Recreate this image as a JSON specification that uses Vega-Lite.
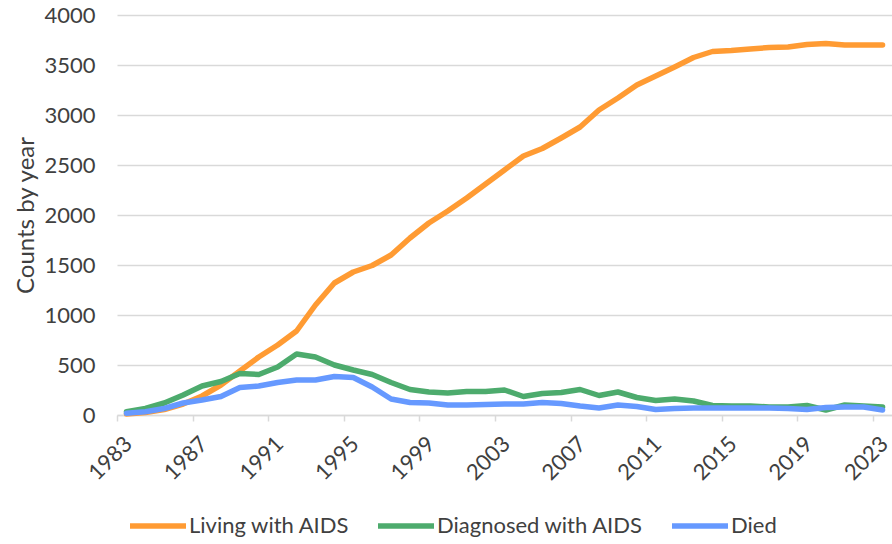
{
  "$schema": "https://vega.github.io/schema/vega-lite/v6.json",
  "width": 775,
  "height": 400,
  "autosize": {"type": "none"},
  "padding": {"left": 117, "top": 15, "right": 0, "bottom": 129},
  "background": "white",
  "config": {"view": {"stroke": null}, "font": "Lato"},
  "data": {"values": [
    {"year": 1983, "Living with AIDS": 10, "Diagnosed with AIDS": 33, "Died": 17},
    {"year": 1984, "Living with AIDS": 25, "Diagnosed with AIDS": 65, "Died": 33},
    {"year": 1985, "Living with AIDS": 55, "Diagnosed with AIDS": 120, "Died": 65},
    {"year": 1986, "Living with AIDS": 110, "Diagnosed with AIDS": 200, "Died": 120},
    {"year": 1987, "Living with AIDS": 190, "Diagnosed with AIDS": 290, "Died": 150},
    {"year": 1988, "Living with AIDS": 300, "Diagnosed with AIDS": 335, "Died": 185},
    {"year": 1989, "Living with AIDS": 440, "Diagnosed with AIDS": 415, "Died": 275},
    {"year": 1990, "Living with AIDS": 580, "Diagnosed with AIDS": 405, "Died": 290},
    {"year": 1991, "Living with AIDS": 700, "Diagnosed with AIDS": 480, "Died": 325},
    {"year": 1992, "Living with AIDS": 840, "Diagnosed with AIDS": 610, "Died": 350},
    {"year": 1993, "Living with AIDS": 1100, "Diagnosed with AIDS": 580, "Died": 350},
    {"year": 1994, "Living with AIDS": 1320, "Diagnosed with AIDS": 500, "Died": 385},
    {"year": 1995, "Living with AIDS": 1430, "Diagnosed with AIDS": 450, "Died": 375},
    {"year": 1996, "Living with AIDS": 1495, "Diagnosed with AIDS": 405, "Died": 280},
    {"year": 1997, "Living with AIDS": 1600, "Diagnosed with AIDS": 325, "Died": 160},
    {"year": 1998, "Living with AIDS": 1770, "Diagnosed with AIDS": 255, "Died": 125},
    {"year": 1999, "Living with AIDS": 1920, "Diagnosed with AIDS": 230, "Died": 120},
    {"year": 2000, "Living with AIDS": 2040, "Diagnosed with AIDS": 220, "Died": 100},
    {"year": 2001, "Living with AIDS": 2170, "Diagnosed with AIDS": 235, "Died": 100},
    {"year": 2002, "Living with AIDS": 2310, "Diagnosed with AIDS": 235, "Died": 105},
    {"year": 2003, "Living with AIDS": 2450, "Diagnosed with AIDS": 250, "Died": 110},
    {"year": 2004, "Living with AIDS": 2590, "Diagnosed with AIDS": 185, "Died": 110},
    {"year": 2005, "Living with AIDS": 2665, "Diagnosed with AIDS": 215, "Died": 125},
    {"year": 2006, "Living with AIDS": 2770, "Diagnosed with AIDS": 225, "Died": 115},
    {"year": 2007, "Living with AIDS": 2880, "Diagnosed with AIDS": 255, "Died": 90},
    {"year": 2008, "Living with AIDS": 3050, "Diagnosed with AIDS": 195, "Died": 70},
    {"year": 2009, "Living with AIDS": 3170, "Diagnosed with AIDS": 230, "Died": 100},
    {"year": 2010, "Living with AIDS": 3300, "Diagnosed with AIDS": 175, "Died": 85},
    {"year": 2011, "Living with AIDS": 3390, "Diagnosed with AIDS": 145, "Died": 55},
    {"year": 2012, "Living with AIDS": 3480, "Diagnosed with AIDS": 160, "Died": 65},
    {"year": 2013, "Living with AIDS": 3575, "Diagnosed with AIDS": 140, "Died": 70},
    {"year": 2014, "Living with AIDS": 3635, "Diagnosed with AIDS": 95, "Died": 70},
    {"year": 2015, "Living with AIDS": 3645, "Diagnosed with AIDS": 90, "Died": 70},
    {"year": 2016, "Living with AIDS": 3660, "Diagnosed with AIDS": 90, "Died": 70},
    {"year": 2017, "Living with AIDS": 3675, "Diagnosed with AIDS": 80, "Died": 70},
    {"year": 2018, "Living with AIDS": 3680, "Diagnosed with AIDS": 80, "Died": 65},
    {"year": 2019, "Living with AIDS": 3705, "Diagnosed with AIDS": 95, "Died": 55},
    {"year": 2020, "Living with AIDS": 3715, "Diagnosed with AIDS": 50, "Died": 75},
    {"year": 2021, "Living with AIDS": 3700, "Diagnosed with AIDS": 100, "Died": 80},
    {"year": 2022, "Living with AIDS": 3700, "Diagnosed with AIDS": 90, "Died": 80},
    {"year": 2023, "Living with AIDS": 3700, "Diagnosed with AIDS": 80, "Died": 50}
  ]},
  "transform": [{"fold": ["Living with AIDS", "Diagnosed with AIDS", "Died"], "as": ["series", "count"]}],
  "mark": {"type": "line", "strokeWidth": 5.5, "strokeCap": "round", "strokeJoin": "round"},
  "encoding": {
    "x": {
      "field": "year", "type": "quantitative",
      "scale": {"domain": [1982.5, 2023.5], "nice": false, "zero": false},
      "axis": {
        "values": [1983, 1987, 1991, 1995, 1999, 2003, 2007, 2011, 2015, 2019, 2023],
        "format": "d", "labelAngle": -45, "tickOffset": -9.45, "labelOffset": 4,
        "grid": false, "domainColor": "#d9d9d9", "domainWidth": 1.5,
        "tickColor": "#d9d9d9", "tickWidth": 1.5, "tickSize": 6,
        "labelFontSize": 22, "labelColor": "#404040", "labelPadding": 12,
        "labelFlush": false, "labelOverlap": false, "title": null
      }
    },
    "y": {
      "field": "count", "type": "quantitative",
      "scale": {"domain": [0, 4000], "nice": false},
      "axis": {
        "values": [0, 500, 1000, 1500, 2000, 2500, 3000, 3500, 4000],
        "format": "d", "title": "Counts by year", "titleFontSize": 24,
        "titleFontWeight": "normal", "titleColor": "#404040", "titlePadding": 5,
        "labelFontSize": 22, "labelColor": "#404040", "labelPadding": 22,
        "ticks": false, "domain": false, "gridColor": "#d9d9d9", "gridWidth": 1.5
      }
    },
    "color": {
      "field": "series", "type": "nominal",
      "scale": {"domain": ["Living with AIDS", "Diagnosed with AIDS", "Died"], "range": ["#ff9b33", "#4dab6d", "#6699ff"]},
      "legend": {
        "title": null, "orient": "none", "legendX": 10, "legendY": 480,
        "direction": "horizontal", "symbolType": "stroke", "symbolSize": 3136,
        "symbolStrokeWidth": 5.5, "labelFontSize": 22, "labelColor": "#404040",
        "labelOffset": 0, "columnPadding": 17, "labelLimit": 400
      }
    }
  }
}
